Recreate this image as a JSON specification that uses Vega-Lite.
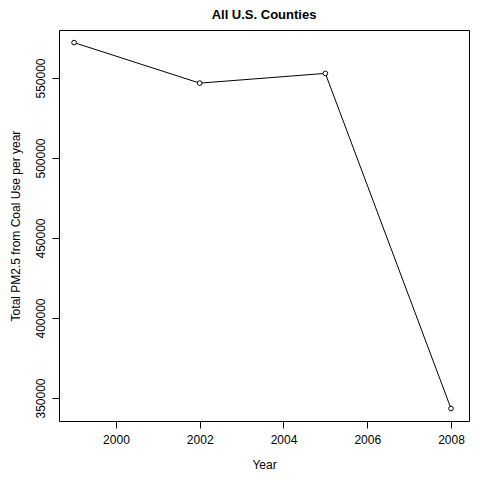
{
  "$schema": "https://vega.github.io/schema/vega-lite/v6.json",
  "width": 410,
  "height": 391,
  "autosize": "none",
  "padding": {"left": 59, "top": 30, "right": 11, "bottom": 59},
  "background": "white",
  "title": {"text": "All U.S. Counties", "font": "Liberation Sans", "fontSize": 13, "fontWeight": "bold", "offset": 8},
  "config": {
    "view": {"stroke": "black", "strokeWidth": 1},
    "axis": {"domain": false, "grid": false, "tickColor": "black", "tickSize": 7, "labelFont": "Liberation Sans", "labelFontSize": 12, "labelColor": "black", "titleFont": "Liberation Sans", "titleFontSize": 12, "titleFontWeight": "normal", "titleColor": "black"}
  },
  "data": {"values": [
    {"year": 1999, "total": 572126},
    {"year": 2002, "total": 546789},
    {"year": 2005, "total": 552881},
    {"year": 2008, "total": 343432}
  ]},
  "encoding": {
    "x": {"field": "year", "type": "quantitative", "scale": {"domain": [1998.64, 2008.43], "nice": false, "zero": false},
      "axis": {"title": "Year", "values": [2000, 2002, 2004, 2006, 2008], "format": "d", "labelPadding": 6, "titlePadding": 14}},
    "y": {"field": "total", "type": "quantitative", "scale": {"domain": [335625, 580000], "nice": false, "zero": false},
      "axis": {"title": "Total PM2.5 from Coal Use per year", "values": [350000, 400000, 450000, 500000, 550000], "format": "d", "labelAngle": -90, "labelAlign": "center", "labelBaseline": "bottom", "labelPadding": 5, "titlePadding": 12}}
  },
  "layer": [
    {"mark": {"type": "line", "color": "black", "strokeWidth": 1}},
    {"mark": {"type": "point", "shape": "circle", "filled": false, "fill": "white", "stroke": "black", "size": 22, "strokeWidth": 1, "opacity": 1}}
  ]
}
